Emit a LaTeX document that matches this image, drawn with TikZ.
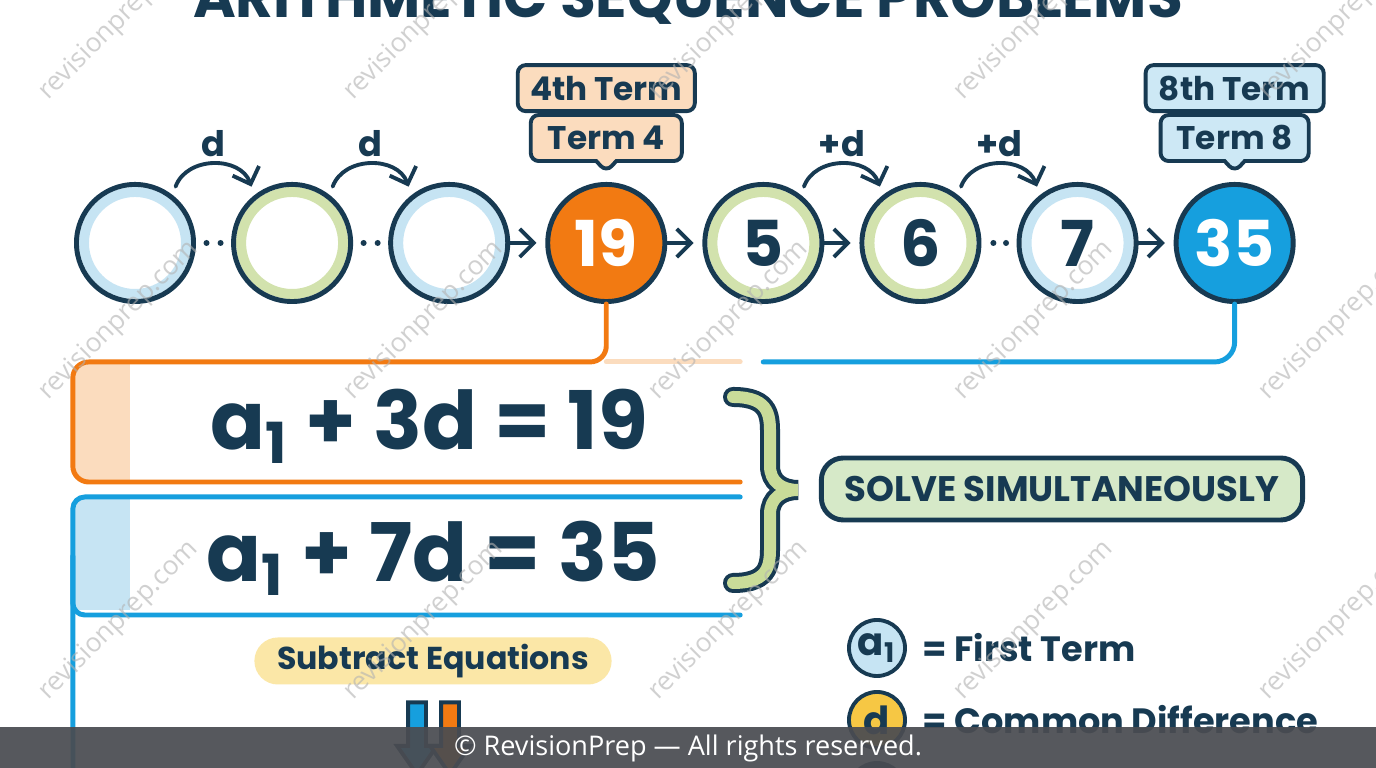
\documentclass[tikz,border=0pt]{standalone}
\usepackage{fontspec}
\setmainfont{Poppins}
\newfontfamily\markfont{Open Sans}
\usepackage{tikz}
\usetikzlibrary{arrows.meta, positioning, shapes.callouts, shapes.arrows}

\definecolor{navy}{HTML}{173A52}
\definecolor{orangefill}{HTML}{F27A12}
\definecolor{peach}{HTML}{FBDCBE}
\definecolor{ringblue}{HTML}{C6E4F3}
\definecolor{ringgreen}{HTML}{D2E2AD}
\definecolor{bluefill}{HTML}{169FDE}
\definecolor{tagblue}{HTML}{CDE8F5}
\definecolor{solvegreen}{HTML}{D6E9C8}
\definecolor{bracegreen}{HTML}{C9DC99}
\definecolor{pillyellow}{HTML}{FBE7A7}
\definecolor{keyyellow}{HTML}{F6C744}
\definecolor{footgrey}{HTML}{4A4C51}

\newcommand{\aone}{a\textsubscript{1}}

\begin{document}
\begin{tikzpicture}[
            x = 0.01cm, y = 0.01cm, % one unit = one pixel of the layout
            > = {Straight Barb[length=4pt, width=8pt]}, % arrow head style
            node distance = 1.57cm, % distance between circle centres
            line cap = round,
            every node/.style = {text = navy}
        ]

        \tikzstyle{term}=[
            circle,
            draw = navy,
            line width = 1.4pt,
            fill = white,
            minimum size = 1.17cm,
            inner sep = 0pt,
            font = \fontsize{18}{18}\selectfont\bfseries
        ]
        \tikzstyle{blue ring}=[path picture={\draw[ringblue, line width=0.1cm] (path picture bounding box.center) circle (0.51cm);}]
        \tikzstyle{green ring}=[path picture={\draw[ringgreen, line width=0.1cm] (path picture bounding box.center) circle (0.51cm);}]
        \tikzstyle{dot}=[circle, fill=navy, minimum size=0.06cm, inner sep=0pt]
        \tikzstyle{seq}=[navy, line width=1.1pt, shorten >=2.5pt]
        \tikzstyle{hop}=[navy, line width=1.1pt, shorten <=2.5pt, shorten >=2.5pt]
        \tikzstyle{hoplabel}=[font=\fontsize{10}{10}\selectfont\bfseries, inner sep=1pt]
        \tikzstyle{tag}=[
            rectangle,
            draw = navy,
            line width = 1.1pt,
            rounded corners = 0.08cm,
            minimum height = 0.46cm,
            inner sep = 0pt,
            font = \fontsize{9.3}{9.3}\selectfont\bfseries
        ]
        \tikzstyle{callbox}=[tag, rectangle callout, callout pointer width=0.2cm]
        \tikzstyle{eqframe}=[rectangle, minimum width=6.67cm, inner sep=0pt, outer sep=0pt]
        \tikzstyle{eqtext}=[font=\fontsize{23}{23}\selectfont\bfseries, anchor=base]
        \tikzstyle{orangeline}=[orangefill, line width=1.4pt]
        \tikzstyle{blueline}=[bluefill, line width=1.4pt]
        \tikzstyle{pill}=[rectangle, inner sep=0pt]
        \tikzstyle{keydot}=[circle, draw=navy, line width=1.1pt, minimum size=0.56cm, inner sep=0pt, font=\fontsize{11}{11}\selectfont\bfseries]
        \tikzstyle{keytext}=[font=\fontsize{10}{10}\selectfont\bfseries, inner sep=0pt]
        \tikzstyle{downarrow}=[
            single arrow,
            shape border rotate = 270,
            draw = navy,
            line width = 1.1pt,
            minimum height = 0.72cm,
            inner sep = 0.07cm,
            single arrow head extend = 0.11cm,
            single arrow tip angle = 70
        ]
        \tikzstyle{watermark}=[rotate=45, anchor=west, text=black!30, opacity=0.6, font=\markfont\fontsize{7.5}{7.5}\selectfont]

        \useasboundingbox (0,0) rectangle (1376,768);
        \clip (0,0) rectangle (1376,768);
        \fill[white] (0,0) rectangle (1376,768);

        % title, cut by the top edge
        \node[font=\fontsize{16.5}{16.5}\selectfont\bfseries, anchor=base] (title) at (688,750) {ARITHMETIC SEQUENCE PROBLEMS};

        % the terms
        \node[term, blue ring] (c1) at (135,525) {};
        \node[term, green ring] (c2) [right of=c1] {};
        \node[term, blue ring] (c3) [right of=c2] {};
        \node[term, fill=orangefill, text=white] (c4) [right of=c3] {19};
        \node[term, green ring] (c5) [right of=c4] {5};
        \node[term, green ring] (c6) [right of=c5] {6};
        \node[term, blue ring] (c7) [right of=c6] {7};
        \node[term, fill=bluefill, text=white] (c8) [right of=c7] {35};

        \path (c1) -- (c2) node[dot, pos=0.3] {} node[dot, pos=0.7] {};
        \path (c2) -- (c3) node[dot, pos=0.3] {} node[dot, pos=0.7] {};
        \path (c6) -- (c7) node[dot, pos=0.34] {} node[dot, pos=0.7] {};

        \draw[seq, ->] (c3) -- (c4);
        \draw[seq, ->] (c4) -- (c5);
        \draw[seq, ->] (c5) -- (c6);
        \draw[seq, ->] (c7) -- (c8);

        \draw[hop, ->] (c1.52) to[out=70, in=110, looseness=1.3] node[hoplabel, above=1pt] {d} (c2.128);
        \draw[hop, ->] (c2.52) to[out=70, in=110, looseness=1.3] node[hoplabel, above=1pt] {d} (c3.128);
        \draw[hop, ->] (c5.52) to[out=70, in=110, looseness=1.3] node[hoplabel, above=1pt] {+d} (c6.128);
        \draw[hop, ->] (c6.52) to[out=70, in=110, looseness=1.3] node[hoplabel, above=1pt] {+d} (c7.128);

        % term tags
        \node[callbox, fill=peach, minimum width=1.51cm, callout absolute pointer={([yshift=0.1cm]c4.north)}] (t4b) [above=0.19cm of c4] {Term 4};
        \node[tag, fill=peach, minimum width=1.77cm] (t4a) [above=0pt of t4b] {4th Term};
        \node[callbox, fill=tagblue, minimum width=1.48cm, callout absolute pointer={([yshift=0.1cm]c8.north)}] (t8b) [above=0.19cm of c8] {Term 8};
        \node[tag, fill=tagblue, minimum width=1.78cm] (t8a) [above=0pt of t8b] {8th Term};

        % equation frames
        \node[eqframe, minimum height=1.2cm] (eq1) at (406.5,346) {};
        \node[eqframe, minimum height=1.18cm] (eq2) at (406.5,212) {};

        \begin{scope}
            \clip[rounded corners=0.12cm] (eq1.north west) rectangle (eq1.south east);
            \fill[peach] (eq1.north west) rectangle ++(57,-120);
        \end{scope}
        \begin{scope}
            \clip[rounded corners=0.12cm] (eq2.north west) rectangle (eq2.south east);
            \fill[ringblue] (eq2.north west) rectangle ++(57,-113);
        \end{scope}

        \draw[peach, line width=1.4pt] (c4.south |- eq1.north) -- (eq1.north east);
        \draw[orangeline, rounded corners=0.16cm] (c4.south) -- (c4.south |- eq1.north) -- (eq1.north west) -- (eq1.south west) -- (eq1.south east);
        \draw[blueline, rounded corners=0.2cm] (c8.south) |- ([xshift=0.23cm]eq1.north east);
        \coordinate (railend) at (73,-20);
        \draw[blueline, rounded corners=0.12cm] (eq2.north east) -- (eq2.north west) -- (railend);
        \draw[blueline, rounded corners=0.12cm] (eq2.west) -- (eq2.south west) -- (eq2.south east);

        \node[eqtext] (eq1t) at (429,318) {\aone\ + 3d = 19};
        \node[eqtext] (eq2t) at (433,186) {\aone\ + 7d = 35};

        % brace and solve box
        \draw[navy, line width=0.04cm, double=bracegreen, double distance=0.12cm]
            (733,371) .. controls (772,371) and (770,350) .. (770,330) -- (770,302)
            .. controls (770,286) and (782,278) .. (798,278)
            .. controls (782,278) and (770,270) .. (770,254) -- (770,226)
            .. controls (770,206) and (772,185) .. (733,185);
        \node[pill, draw=navy, line width=1.4pt, fill=solvegreen, rounded corners=0.22cm, minimum width=4.81cm, minimum height=0.62cm, font=\fontsize{10.1}{10.1}\selectfont\bfseries] (solve) at (1062,279) {SOLVE SIMULTANEOUSLY};

        % subtract step
        \node[pill, fill=pillyellow, rounded corners=0.235cm, minimum width=3.57cm, minimum height=0.47cm, font=\fontsize{9}{9}\selectfont\bfseries] (sub) at (433,107) {Subtract Equations};
        \node[downarrow, fill=bluefill] (dn1) at (417,36) {};
        \node[downarrow, fill=orangefill] (dn2) at (450,36) {};

        % key
        \node[keydot, fill=ringblue] (ka) at (877,120) {\aone};
        \node[keytext] (kat) [right=0.15cm of ka] {= First Term};
        \node[keydot, fill=keyyellow] (kd) at (877,48) {d};
        \node[keytext] (kdt) [right=0.15cm of kd] {= Common Difference};
        \node[keydot, fill=navy] (k3) at (877,-23) {};

        % watermark
        \foreach \wx in {35,340,645,950,1255}
            \foreach \wy in {663,363,63}
                \node[watermark] at (\wx,\wy) {revisionprep.com};

        % footer
        \fill[footgrey, opacity=0.93] (0,0) rectangle (1376,41);
        \node[text=white, font=\markfont\fontsize{7.7}{7.7}\selectfont] (foot) at (688,20) {© RevisionPrep — All rights reserved.};

  \end{tikzpicture}
\end{document}
